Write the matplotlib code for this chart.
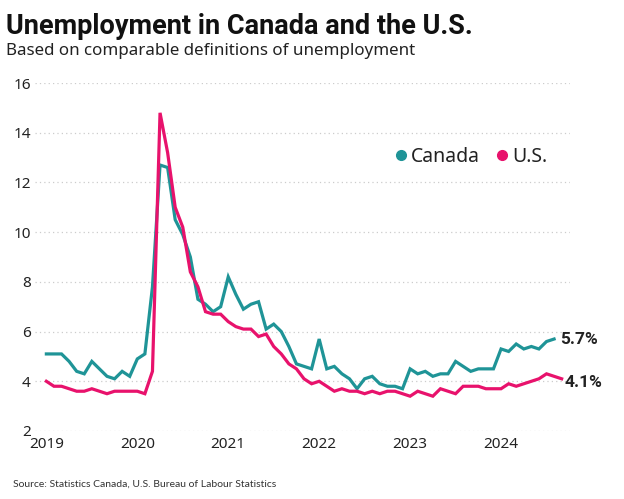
import numpy as np
import matplotlib
matplotlib.use('Agg')
import matplotlib.pyplot as plt
from matplotlib.lines import Line2D

# Monthly unemployment rate (%), Jan 2019 onwards
canada = [
    5.1, 5.1, 5.1, 4.8, 4.4, 4.3, 4.8, 4.5, 4.2, 4.1, 4.4, 4.2,      # 2019
    4.9, 5.1, 7.8, 12.7, 12.6, 10.5, 9.9, 9.0, 7.3, 7.1, 6.8, 7.0,   # 2020
    8.2, 7.5, 6.9, 7.1, 7.2, 6.1, 6.3, 6.0, 5.4, 4.7, 4.6, 4.5,      # 2021
    5.7, 4.5, 4.6, 4.3, 4.1, 3.7, 4.1, 4.2, 3.9, 3.8, 3.8, 3.7,      # 2022
    4.5, 4.3, 4.4, 4.2, 4.3, 4.3, 4.8, 4.6, 4.4, 4.5, 4.5, 4.5,      # 2023
    5.3, 5.2, 5.5, 5.3, 5.4, 5.3, 5.6, 5.7,                          # 2024
]
us = [
    4.0, 3.8, 3.8, 3.7, 3.6, 3.6, 3.7, 3.6, 3.5, 3.6, 3.6, 3.6,      # 2019
    3.6, 3.5, 4.4, 14.8, 13.2, 11.0, 10.2, 8.4, 7.8, 6.8, 6.7, 6.7,  # 2020
    6.4, 6.2, 6.1, 6.1, 5.8, 5.9, 5.4, 5.1, 4.7, 4.5, 4.1, 3.9,      # 2021
    4.0, 3.8, 3.6, 3.7, 3.6, 3.6, 3.5, 3.6, 3.5, 3.6, 3.6, 3.5,      # 2022
    3.4, 3.6, 3.5, 3.4, 3.7, 3.6, 3.5, 3.8, 3.8, 3.8, 3.7, 3.7,      # 2023
    3.7, 3.9, 3.8, 3.9, 4.0, 4.1, 4.3, 4.2, 4.1,                     # 2024
]
years = ["2019", "2020", "2021", "2022", "2023", "2024"]
y_ticks = [2, 4, 6, 8, 10, 12, 14, 16]

TEAL = '#1f9497'
PINK = '#e8126c'
TXT = '#222222'

fig = plt.figure(figsize=(6.24, 4.99), dpi=100)
ax = fig.add_axes([35/624, 68/499, 535/624, 348/499])

ax.plot(np.arange(len(canada)), canada, color=TEAL, lw=2.3, solid_joinstyle='miter')
ax.plot(np.arange(len(us)), us, color=PINK, lw=2.3, solid_joinstyle='miter')

ax.set_xlim(-1.5, 69.1)
ax.set_ylim(2, 16)
ax.set_yticks(y_ticks)
ax.set_xticks(np.arange(len(years)) * 12)
ax.set_xticklabels(years)
ax.grid(axis='y', color='#cccccc', linestyle=(0, (1, 2.5)), lw=0.9)
ax.set_axisbelow(True)
for s in ax.spines.values():
    s.set_visible(False)
ax.tick_params(length=0, labelsize=11, labelcolor=TXT, pad=4)
ax.tick_params(axis='y', pad=3)
for lab in ax.get_xticklabels() + ax.get_yticklabels():
    lab.set_family('Noto Sans')

# end labels
ax.annotate(f"{canada[-1]}%", xy=(len(canada) - 1, canada[-1]), xytext=(4, 0),
            textcoords='offset points', va='center', ha='left',
            fontsize=12.5, fontweight='bold', color=TXT, family='Roboto')
ax.annotate(f"{us[-1]}%", xy=(len(us) - 1, us[-1]), xytext=(2, -3),
            textcoords='offset points', va='center', ha='left',
            fontsize=12.5, fontweight='bold', color=TXT, family='Roboto')

handles = [Line2D([], [], marker='o', ls='', color=TEAL, markersize=7),
           Line2D([], [], marker='o', ls='', color=PINK, markersize=7)]
leg = ax.legend(handles, ["Canada", "U.S."], ncol=2, frameon=False, loc='center',
                bbox_to_anchor=(0.813, 0.787), handletextpad=0.05, columnspacing=0.7,
                handlelength=0.9, prop={'family': 'Noto Sans', 'size': 14})
for t in leg.get_texts():
    t.set_color(TXT)

fig.text(6/624, 1 - 34/499, "Unemployment in Canada and the U.S.", fontsize=19.5,
         fontweight='bold', family='Roboto', color='#111111', va='baseline', ha='left')
fig.text(6/624, 1 - 55/499, "Based on comparable definitions of unemployment", fontsize=12.2,
         family='Noto Sans', color=TXT, va='baseline', ha='left')
fig.text(13/624, 1 - 487/499, "Source: Statistics Canada, U.S. Bureau of Labour Statistics",
         fontsize=7.5, family='Lato', color='#333333', va='baseline', ha='left')

fig.savefig('out.png', dpi=100)
